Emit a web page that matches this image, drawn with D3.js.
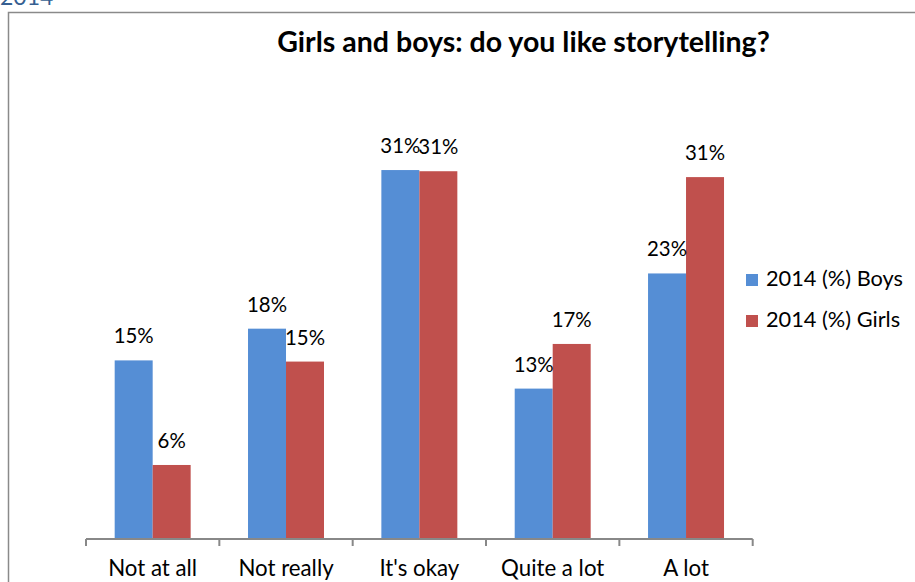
<!DOCTYPE html>
<html>
<head>
<meta charset="utf-8">
<script src="https://cdn.jsdelivr.net/npm/d3@7"></script>
<style>
  html, body { margin: 0; padding: 0; background: #fff; }
  svg { display: block; }
  text { font-family: "Lato", "Open Sans", sans-serif; }
</style>
</head>
<body>
<svg id="chart" width="915" height="582"></svg>
<script>
const categories = ["Not at all", "Not really", "It's okay", "Quite a lot", "A lot"];
const seriesNames = ["2014 (%) Boys", "2014 (%) Girls"];
const boysValues = [15.2, 17.9, 31.4, 12.8, 22.6];
const girlsValues = [6.3, 15.1, 31.3, 16.6, 30.8];
const labelText = [["15%", "18%", "31%", "13%", "23%"], ["6%", "15%", "31%", "17%", "31%"]];
const colors = ["#558ed5", "#c0504d"];
const titleText = "Girls and boys: do you like storytelling?";

const svg = d3.select("#chart");
const W = 915, H = 582;
const baseY = 539;

// fit helper: scale font so text spans target width
function fit(sel, target) {
  const w = sel.node().getComputedTextLength();
  const fs = parseFloat(sel.attr("font-size"));
  sel.attr("font-size", fs * target / w);
}

// corner caption and frame
svg.append("text").attr("x", 0).attr("y", 5).attr("font-size", 23)
  .attr("fill", "#365f91").text("2014");
svg.append("path").attr("d", `M8.5,${H} L8.5,12.5 L${W},12.5`)
  .attr("fill", "none").attr("stroke", "#8a8a8a").attr("stroke-width", 1.5);

// title
const title = svg.append("text").attr("x", 523.5).attr("y", 52).attr("text-anchor", "middle")
  .attr("font-size", 24).attr("font-weight", "bold").attr("fill", "#000").text(titleText);
fit(title, 493);

const x0 = d3.scaleBand().domain(categories).range([86, 752.7]).padding(0);
const x1 = d3.scaleBand().domain([0, 1]).range([0, x0.bandwidth()]).paddingInner(0).paddingOuter(0.755);
const y = d3.scaleLinear().domain([0, 35]).range([baseY, baseY - 35 * 11.75]);

const data = categories.map((c, i) => ({ c, vals: [boysValues[i], girlsValues[i]] }));

const g = svg.append("g");
data.forEach((d, i) => {
  d.vals.forEach((v, s) => {
    g.append("rect")
      .attr("x", x0(d.c) + x1(s))
      .attr("y", y(v))
      .attr("width", x1.bandwidth())
      .attr("height", baseY - y(v))
      .attr("fill", colors[s]);
  });
});
const probe = svg.append("text").attr("font-size", 20).text("15%");
const labelFs = 20 * 40 / probe.node().getComputedTextLength();
probe.remove();
data.forEach((d, i) => {
  d.vals.forEach((v, s) => {
    g.append("text")
      .attr("x", x0(d.c) + x1(s) + x1.bandwidth() / 2)
      .attr("y", y(v) - 17)
      .attr("text-anchor", "middle")
      .attr("font-size", labelFs)
      .attr("fill", "#000")
      .text(labelText[s][i]);
  });
});

// axis
const ax = svg.append("g");
ax.append("line").attr("x1", x0.range()[0]).attr("x2", x0.range()[1])
  .attr("y1", baseY).attr("y2", baseY).attr("stroke", "#888").attr("stroke-width", 2);
const bounds = categories.map(c => x0(c)).concat([x0.range()[1]]);
bounds.forEach(b => {
  ax.append("line").attr("x1", b).attr("x2", b).attr("y1", baseY).attr("y2", baseY + 7)
    .attr("stroke", "#888").attr("stroke-width", 2);
});
const probe2 = svg.append("text").attr("font-size", 20).text(categories[0]);
const catFs = 20 * 89 / probe2.node().getComputedTextLength();
probe2.remove();
categories.forEach(c => {
  ax.append("text").attr("x", x0(c) + x0.bandwidth() / 2).attr("y", 576)
    .attr("text-anchor", "middle").attr("font-size", catFs).attr("fill", "#000").text(c);
});

// legend
const leg = svg.append("g");
const probe3 = svg.append("text").attr("font-size", 20).text(seriesNames[0]);
const legFs = 20 * 137 / probe3.node().getComputedTextLength();
probe3.remove();
seriesNames.forEach((n, i) => {
  const ly = 286 + i * 41;
  leg.append("rect").attr("x", 746).attr("y", ly - 12).attr("width", 12).attr("height", 12).attr("fill", colors[i]);
  leg.append("text").attr("x", 766).attr("y", ly).attr("font-size", legFs).attr("fill", "#000").text(n);
});
</script>
</body>
</html>
